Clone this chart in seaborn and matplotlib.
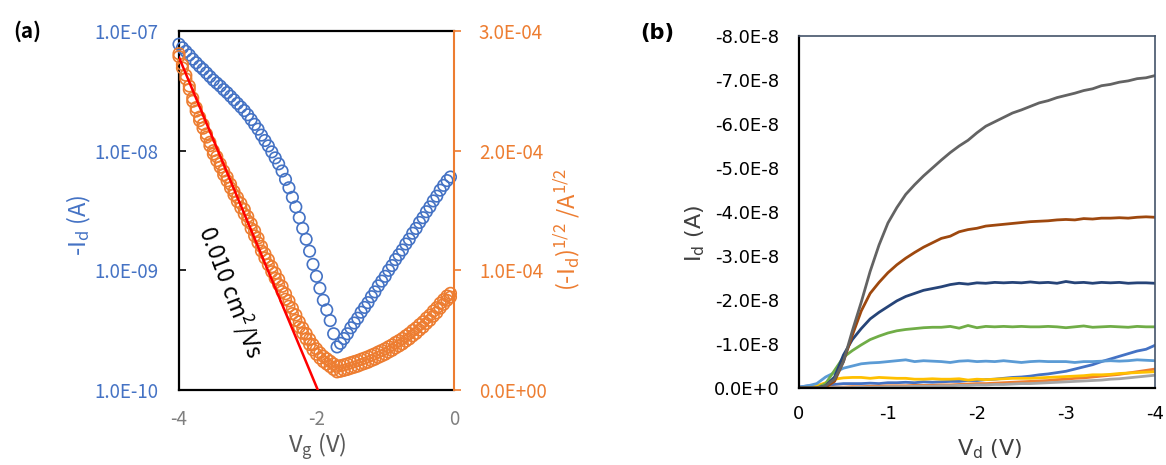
import numpy as np
import pandas as pd
import seaborn as sns
import matplotlib
matplotlib.use('Agg')
import matplotlib.pyplot as plt
from matplotlib.ticker import NullLocator

# (a) transfer curve, gate sweep in 0.05 V steps
vg = np.linspace(-4.0, -0.05, 80)
# log10(-Id)
log_id = [-7.11, -7.14, -7.17, -7.20, -7.235, -7.265, -7.295, -7.32, -7.35, -7.38,
          -7.41, -7.435, -7.46, -7.49, -7.515, -7.545, -7.575, -7.605, -7.635, -7.665,
          -7.70, -7.74, -7.78, -7.82, -7.87, -7.915, -7.96, -8.01, -8.06, -8.11,
          -8.17, -8.24, -8.31, -8.39, -8.47, -8.56, -8.65, -8.74, -8.84, -8.95,
          -9.05, -9.15, -9.25, -9.33, -9.42, -9.53, -9.64,
          -9.61, -9.57, -9.53, -9.48, -9.44, -9.40, -9.35, -9.31, -9.27, -9.22,
          -9.18, -9.13, -9.09, -9.05, -9.00, -8.96, -8.91, -8.87, -8.83, -8.78,
          -8.74, -8.69, -8.65, -8.60, -8.56, -8.51, -8.47, -8.42, -8.38, -8.33,
          -8.29, -8.25, -8.22]
id_abs = 10 ** np.array(log_id)
sqrt_id = np.sqrt(id_abs)

# second (return) sweep of sqrt(Id), in units of 1e-5 A^1/2
sqrt_ret = [28.1, 27.2, 26.3, 25.4, 24.4, 23.6, 22.8, 22.2, 21.4, 20.7,
            20.0, 19.5, 18.9, 18.3, 17.8, 17.2, 16.6, 16.1, 15.6, 15.1,
            14.5, 13.9, 13.3, 12.7, 12.0, 11.4, 10.9, 10.3, 9.77, 9.25,
            8.66, 8.04, 7.45, 6.83, 6.27, 5.70, 5.18, 4.72, 4.25, 3.80,
            3.44, 3.11, 2.82, 2.61, 2.40, 2.18, 1.98,
            2.03, 2.10, 2.18, 2.28, 2.37, 2.46, 2.57, 2.67, 2.78, 2.91,
            3.03, 3.18, 3.31, 3.45, 3.62, 3.77, 3.97, 4.13, 4.31, 4.53,
            4.73, 4.98, 5.19, 5.46, 5.70, 6.01, 6.26, 6.60, 6.88, 7.25,
            7.55, 7.86, 8.08]

# linear fit of sqrt(Id) -> mobility
fit_vg = [-4.0, -1.98]
fit_sqrt = [2.78e-4, 0.0]

a_xticks = [-4, -2, 0]
a_xlabels = ['-4', '-2', '0']
a_yticks = [1e-10, 1e-9, 1e-8, 1e-7]
a_ylabels = ['1.0E-10', '1.0E-09', '1.0E-08', '1.0E-07']
a_y2ticks = [0, 1e-4, 2e-4, 3e-4]
a_y2labels = ['0.0E+00', '1.0E-04', '2.0E-04', '3.0E-04']

# (b) output curves, -Id in units of 1e-8 A, Vd in 0.1 V steps
vd = np.linspace(0, -4, 41)
s_blue = [0.02, 0.05, 0.05, 0.06, 0.08, 0.10, 0.10, 0.10, 0.11, 0.10,
          0.12, 0.12, 0.13, 0.12, 0.14, 0.13, 0.14, 0.15, 0.15, 0.17,
          0.17, 0.19, 0.20, 0.22, 0.24, 0.25, 0.27, 0.30, 0.32, 0.35,
          0.38, 0.43, 0.48, 0.53, 0.60, 0.66, 0.72, 0.78, 0.84, 0.88, 0.97]
s_orange = [0.00, 0.00, 0.00, 0.01, 0.02, 0.02, 0.03, 0.03, 0.04, 0.04,
            0.05, 0.05, 0.05, 0.06, 0.06, 0.06, 0.07, 0.07, 0.08, 0.09,
            0.10, 0.10, 0.11, 0.12, 0.13, 0.14, 0.15, 0.16, 0.17, 0.19,
            0.20, 0.22, 0.23, 0.25, 0.27, 0.29, 0.31, 0.34, 0.37, 0.40, 0.43]
s_lgray = [0.00, 0.00, 0.00, 0.00, 0.01, 0.01, 0.01, 0.02, 0.02, 0.02,
           0.03, 0.03, 0.03, 0.04, 0.04, 0.04, 0.05, 0.05, 0.06, 0.06,
           0.07, 0.07, 0.08, 0.08, 0.09, 0.10, 0.10, 0.11, 0.12, 0.13,
           0.14, 0.15, 0.16, 0.17, 0.18, 0.20, 0.21, 0.23, 0.25, 0.27, 0.29]
s_gold = [0.00, 0.02, 0.05, 0.12, 0.20, 0.23, 0.24, 0.24, 0.22, 0.24,
          0.23, 0.22, 0.22, 0.20, 0.20, 0.21, 0.20, 0.20, 0.21, 0.18,
          0.20, 0.19, 0.20, 0.21, 0.22, 0.22, 0.22, 0.23, 0.24, 0.25,
          0.26, 0.27, 0.28, 0.30, 0.30, 0.31, 0.33, 0.34, 0.35, 0.36, 0.37]
s_lblue = [0.02, 0.05, 0.10, 0.25, 0.35, 0.45, 0.50, 0.55, 0.57, 0.58,
           0.60, 0.62, 0.64, 0.60, 0.62, 0.61, 0.60, 0.58, 0.61, 0.62,
           0.60, 0.61, 0.60, 0.62, 0.60, 0.58, 0.60, 0.61, 0.60, 0.60,
           0.60, 0.58, 0.60, 0.60, 0.61, 0.62, 0.61, 0.62, 0.64, 0.63, 0.62]
s_green = [0.00, 0.00, 0.00, 0.10, 0.40, 0.70, 0.85, 0.98, 1.10, 1.18,
           1.25, 1.30, 1.33, 1.35, 1.37, 1.38, 1.38, 1.40, 1.36, 1.42,
           1.37, 1.40, 1.39, 1.40, 1.39, 1.40, 1.39, 1.39, 1.40, 1.39,
           1.37, 1.39, 1.41, 1.38, 1.39, 1.40, 1.39, 1.38, 1.40, 1.39, 1.39]
s_dblue = [0.00, 0.00, 0.00, 0.05, 0.25, 0.75, 1.10, 1.35, 1.57, 1.72,
           1.85, 1.98, 2.08, 2.15, 2.22, 2.26, 2.30, 2.35, 2.38, 2.36,
           2.39, 2.38, 2.40, 2.39, 2.40, 2.39, 2.41, 2.39, 2.40, 2.38,
           2.42, 2.39, 2.40, 2.38, 2.40, 2.39, 2.40, 2.38, 2.39, 2.39, 2.38]
s_brown = [0.00, 0.00, 0.00, 0.02, 0.15, 0.60, 1.20, 1.75, 2.15, 2.40,
           2.62, 2.80, 2.95, 3.08, 3.20, 3.30, 3.40, 3.45, 3.55, 3.60,
           3.63, 3.68, 3.70, 3.72, 3.74, 3.76, 3.78, 3.79, 3.80, 3.82,
           3.83, 3.82, 3.85, 3.84, 3.86, 3.86, 3.87, 3.86, 3.88, 3.89, 3.88]
s_dgray = [0.00, 0.00, 0.00, 0.05, 0.20, 0.60, 1.30, 1.95, 2.65, 3.25,
           3.75, 4.10, 4.40, 4.62, 4.82, 5.00, 5.18, 5.35, 5.50, 5.63,
           5.80, 5.95, 6.05, 6.15, 6.25, 6.32, 6.40, 6.48, 6.53, 6.60,
           6.65, 6.70, 6.76, 6.80, 6.87, 6.90, 6.95, 6.98, 7.03, 7.05, 7.10]

series_names = ['blue', 'orange', 'lgray', 'gold', 'lblue', 'green', 'dblue', 'brown', 'dgray']
series_vals = [s_blue, s_orange, s_lgray, s_gold, s_lblue, s_green, s_dblue, s_brown, s_dgray]
series_colors = ['#4472C4', '#ED7D31', '#A5A5A5', '#FFC000', '#5B9BD5',
                 '#70AD47', '#264478', '#9E480E', '#636363']

b_xticks = [0, -1, -2, -3, -4]
b_xlabels = ['0', '-1', '-2', '-3', '-4']
b_yticks = [0, -1e-8, -2e-8, -3e-8, -4e-8, -5e-8, -6e-8, -7e-8, -8e-8]
b_ylabels = ['0.0E+0', '-1.0E-8', '-2.0E-8', '-3.0E-8', '-4.0E-8',
             '-5.0E-8', '-6.0E-8', '-7.0E-8', '-8.0E-8']

# long table for seaborn
rows = []
for name, vals in zip(series_names, series_vals):
    for x, v in zip(vd, vals):
        rows.append({'vd': x, 'id': -v * 1e-8, 'series': name})
df_b = pd.DataFrame(rows)

sns.set_style('white')
fa = 'Noto Sans CJK SC'
fb = 'DejaVu Sans'
plt.rcParams['font.family'] = [fa, 'DejaVu Sans']
plt.rcParams['mathtext.default'] = 'regular'

blue = '#4472C4'
orange = '#ED7D31'

fig = plt.figure(figsize=(11.66, 4.65), dpi=100)

# ---------- panel (a) ----------
ax = fig.add_axes([0.1535, 0.1613, 0.2358, 0.7720])
ax.set_yscale('log')
sns.scatterplot(x=vg, y=id_abs, ax=ax, marker='o', s=68, facecolor='none',
                edgecolor=blue, linewidth=1.2, clip_on=False, zorder=3)
ax.set_xlim(-4, 0)
ax.set_ylim(1e-10, 1e-7)
ax.set_xticks(a_xticks, labels=a_xlabels)
ax.set_yticks(a_yticks, labels=a_ylabels)
ax.yaxis.set_minor_locator(NullLocator())
ax.tick_params(axis='x', length=0, pad=14, labelsize=13.5, labelcolor='#7F7F7F')
ax.tick_params(axis='y', direction='in', length=5, width=1.2, color='black',
               pad=15, labelsize=13.5, labelcolor=blue)
for side in ['left', 'top', 'bottom']:
    ax.spines[side].set_color('black')
    ax.spines[side].set_linewidth(1.6)
ax.spines['right'].set_visible(False)
ax.set_xlabel('V$_{g}$ (V)', fontsize=17, color='#595959')
ax.xaxis.set_label_coords(0.502, -0.159)
ax.xaxis.label.set_va('center')
ax.set_ylabel('-I$_{d}$ (A)', fontsize=17, color=blue)
ax.yaxis.set_label_coords(-0.365, 0.46)
ax.yaxis.label.set_va('center')

ax2 = ax.twinx()
sns.scatterplot(x=vg, y=np.array(sqrt_ret) * 1e-5, ax=ax2, marker='o', s=68,
                facecolor='none', edgecolor=orange, linewidth=1.2, clip_on=False, zorder=3)
sns.scatterplot(x=vg, y=sqrt_id, ax=ax2, marker='o', s=68, facecolor='none',
                edgecolor=orange, linewidth=1.2, clip_on=False, zorder=3)
sns.lineplot(x=fit_vg, y=fit_sqrt, ax=ax2, color='#FF0000', linewidth=1.8, zorder=4)
ax2.set_ylim(0, 3e-4)
ax2.set_xlim(-4, 0)
ax2.set_yticks(a_y2ticks, labels=a_y2labels)
ax2.tick_params(axis='y', direction='out', length=5, width=1.2, color=orange,
                labelcolor=orange, labelsize=13.5, pad=13)
for side in ['left', 'top', 'bottom']:
    ax2.spines[side].set_visible(False)
ax2.spines['right'].set_color(orange)
ax2.spines['right'].set_linewidth(1.5)
ax2.set_ylabel('(-I$_{d}$)$^{1/2}$ /A$^{1/2}$', fontsize=17, color=orange)
ax2.yaxis.set_label_coords(1.41, 0.446)
ax2.yaxis.label.set_va('center')

fig.text(231 / 1166, 1 - 292 / 465, '0.010 cm$^{2}$/Vs', rotation=-69,
         rotation_mode='anchor', ha='center', va='center', fontsize=16.5, color='black')
fig.text(27 / 1166, 1 - 31 / 465, '(a)', fontsize=15, fontweight='bold',
         ha='center', va='center', color='black')

# ---------- panel (b) ----------
bx = fig.add_axes([0.6852, 0.1656, 0.3053, 0.7570])
sns.lineplot(data=df_b, x='vd', y='id', hue='series', hue_order=series_names,
             palette=series_colors, linewidth=2, legend=False, errorbar=None, ax=bx)
bx.set_xlim(0, -4)
bx.set_ylim(0, -8e-8)
bx.set_xticks(b_xticks, labels=b_xlabels, fontfamily=fb)
bx.set_yticks(b_yticks, labels=b_ylabels, fontfamily=fb)
bx.tick_params(axis='both', direction='out', length=5, width=1.2, color='black',
               labelsize=13, labelcolor='black')
bx.tick_params(axis='y', pad=9)
bx.tick_params(axis='x', pad=7)
for side in ['left', 'bottom']:
    bx.spines[side].set_color('black')
    bx.spines[side].set_linewidth(1.6)
for side in ['top', 'right']:
    bx.spines[side].set_color('#44546A')
    bx.spines[side].set_linewidth(1.2)
bx.set_xlabel('V$_{d}$ (V)', fontsize=16, fontfamily=fb, color='#404040')
bx.xaxis.set_label_coords(0.535, -0.175)
bx.xaxis.label.set_va('center')
bx.set_ylabel('I$_{d}$ (A)', fontsize=16, fontfamily=fb, color='#404040')
bx.yaxis.set_label_coords(-0.292, 0.44)
bx.yaxis.label.set_va('center')
fig.text(657 / 1166, 1 - 33 / 465, '(b)', fontsize=15, fontweight='bold', family=fb,
         ha='center', va='center', color='black')

fig.savefig('out.png', dpi=100)
